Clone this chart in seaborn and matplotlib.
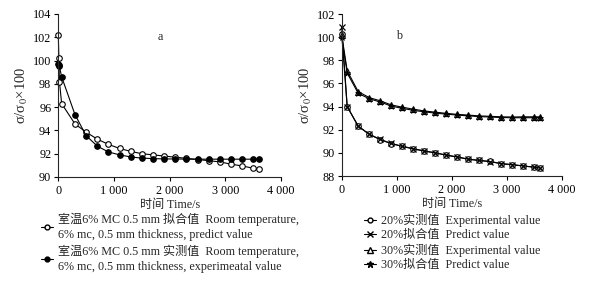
import numpy as np
import pandas as pd
import matplotlib
matplotlib.use("Agg")
import matplotlib.pyplot as plt
import seaborn as sns
from matplotlib.lines import Line2D

# ---------------- data ----------------
t_a = [0, 10, 20, 60, 300, 500, 700, 900, 1100, 1300, 1500, 1700, 1900, 2100,
       2300, 2500, 2700, 2900, 3100, 3300, 3500, 3600]
pred_a = [102.2, 100.2, 98.2, 96.3, 94.55, 93.85, 93.25, 92.8, 92.45, 92.2, 92.0,
          91.9, 91.8, 91.7, 91.6, 91.5, 91.4, 91.3, 91.1, 90.95, 90.75, 90.65]
exp_a = [99.7, 99.6, 99.5, 98.6, 95.35, 93.55, 92.65, 92.15, 91.9, 91.72, 91.62,
         91.58, 91.55, 91.55, 91.53, 91.53, 91.53, 91.53, 91.53, 91.53, 91.53, 91.53]

t_b = [0, 100, 300, 500, 700, 900, 1100, 1300, 1500, 1700, 1900, 2100, 2300,
       2500, 2700, 2900, 3100, 3300, 3500, 3600]
exp20 = [100.3, 94.0, 92.33, 91.6, 91.15, 90.8, 90.58, 90.37, 90.16, 90.02, 89.8,
         89.64, 89.45, 89.35, 89.27, 89.07, 88.98, 88.87, 88.78, 88.72]
pred20 = [100.9, 94.0, 92.3, 91.62, 91.17, 90.82, 90.56, 90.35, 90.17, 90.0, 89.82,
          89.66, 89.47, 89.35, 89.24, 89.08, 88.99, 88.88, 88.76, 88.7]
exp30 = [100.2, 97.1, 95.3, 94.78, 94.5, 94.15, 93.95, 93.78, 93.63, 93.52, 93.42,
         93.33, 93.27, 93.2, 93.16, 93.12, 93.1, 93.12, 93.12, 93.12]
pred30 = [100.0, 96.9, 95.15, 94.68, 94.4, 94.05, 93.85, 93.68, 93.55, 93.44, 93.35,
          93.27, 93.2, 93.14, 93.1, 93.06, 93.04, 93.04, 93.04, 93.04]

x_ticks = [0, 1000, 2000, 3000, 4000]
x_ticklabels = ["0", "1 000", "2 000", "3 000", "4 000"]
ya_ticks = [90, 92, 94, 96, 98, 100, 102, 104]
yb_ticks = [88, 90, 92, 94, 96, 98, 100, 102]

xlabel = "时间 Time/s"
ylabel = "σ/σ$_0$×100"
labels_a = ["室温6% MC 0.5 mm 拟合值  Room temperature,\n6% mc, 0.5 mm thickness, predict value",
            "室温6% MC 0.5 mm 实测值  Room temperature,\n6% mc, 0.5 mm thickness, experimeatal value"]
labels_b = ["20%实测值  Experimental value", "20%拟合值  Predict value",
            "30%实测值  Experimental value", "30%拟合值  Predict value"]

# ---------------- style ----------------
sns.set_style("ticks")
FONT = ["Liberation Serif", "Noto Sans CJK SC"]
plt.rcParams["font.family"] = FONT
plt.rcParams["mathtext.fontset"] = "stix"
plt.rcParams["axes.linewidth"] = 0.8
FS = 8.7

fig = plt.figure(figsize=(6.08, 2.84), dpi=100)
ax_a = fig.add_axes([0.0959, 0.3768, 0.3664, 0.574])
ax_b = fig.add_axes([0.562, 0.3800, 0.3618, 0.5707])

lw = 0.8
# panel a
sns.lineplot(x=t_a, y=pred_a, ax=ax_a, color="black", lw=lw, marker="o", ms=4,
             mfc="white", mec="black", mew=0.8, clip_on=False)
sns.lineplot(x=t_a, y=exp_a, ax=ax_a, color="black", lw=lw, marker="o", ms=4,
             mfc="black", mec="black", mew=0.8, clip_on=False)
# panel b
sns.lineplot(x=t_b, y=exp20, ax=ax_b, color="black", lw=lw, marker="o", ms=4,
             mfc="white", mec="black", mew=0.8, clip_on=False)
sns.lineplot(x=t_b, y=pred20, ax=ax_b, color="black", lw=lw, marker="x", ms=4.5,
             mec="black", mew=0.9, clip_on=False)
sns.lineplot(x=t_b, y=exp30, ax=ax_b, color="black", lw=lw, marker="^", ms=4.5,
             mfc="white", mec="black", mew=0.8, clip_on=False)
sns.lineplot(x=t_b, y=pred30, ax=ax_b, color="black", lw=lw, marker="*", ms=5,
             mfc="black", mec="black", mew=0.5, clip_on=False)

for ax, yt in ((ax_a, ya_ticks), (ax_b, yb_ticks)):
    ax.set_xlim(0, 4000)
    ax.set_ylim(yt[0], yt[-1])
    ax.set_xticks(x_ticks)
    ax.set_xticklabels(x_ticklabels, fontsize=FS)
    ax.set_yticks(yt)
    ax.set_yticklabels([str(v) for v in yt], fontsize=FS)
    ax.tick_params(direction="out", length=3, width=0.8, pad=2, colors="black")
    ax.tick_params(axis="x", pad=3)
    sns.despine(ax=ax)
    ax.set_xlabel(xlabel, fontsize=FS, labelpad=1)
    ax.set_ylabel(ylabel, fontsize=10.5, labelpad=2)

ax_a.text(1830, 102.0, "a", fontsize=FS, ha="center", va="center")
ax_b.text(1040, 100.1, "b", fontsize=FS, ha="center", va="center")

# legends
h_a = [Line2D([], [], color="black", lw=lw, marker="o", ms=3.5, mfc="white", mec="black"),
       Line2D([], [], color="black", lw=lw, marker="o", ms=3.5, mfc="black", mec="black")]
leg_a = fig.legend(h_a, labels_a, loc="upper left", bbox_to_anchor=(0.068, 0.25),
                   frameon=False, fontsize=FS, handlelength=1.0, handletextpad=0.4,
                   labelspacing=0.37, borderpad=0, borderaxespad=0)
for t in leg_a.get_texts():
    t.set_linespacing(1.25)
h_b = [Line2D([], [], color="black", lw=lw, marker="o", ms=3.5, mfc="white", mec="black"),
       Line2D([], [], color="black", lw=lw, marker="x", ms=4, mec="black"),
       Line2D([], [], color="black", lw=lw, marker="^", ms=4, mfc="white", mec="black"),
       Line2D([], [], color="black", lw=lw, marker="*", ms=4.5, mfc="black", mec="black")]
leg_b = fig.legend(h_b, labels_b, loc="upper left", bbox_to_anchor=(0.598, 0.248),
                   frameon=False, fontsize=FS, handlelength=1.0, handletextpad=0.4,
                   labelspacing=0.2, borderpad=0, borderaxespad=0)

fig.savefig("out.png", dpi=100)
